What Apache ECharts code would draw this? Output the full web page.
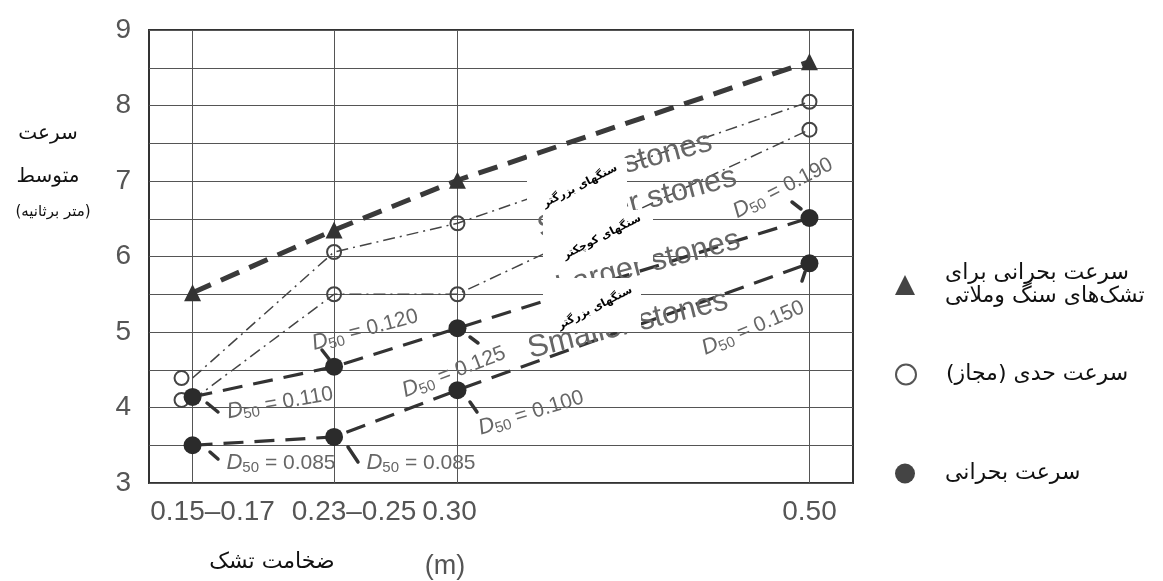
<!DOCTYPE html>
<html><head><meta charset="utf-8">
<script src="https://cdn.jsdelivr.net/npm/echarts@6/dist/echarts.min.js"></script>
<style>html,body{margin:0;padding:0;background:#fff}#c{width:1163px;height:581px}</style>
</head><body><div id="c"></div>
<script>
// ---- data ----
const xLabels = ['0.15–0.17', '0.23–0.25', '0.30', '0.50'];
const xPos = [0.16, 0.238, 0.306, 0.50];            // lining thickness (m), as placed on the drawn axis
const yTicks = [3, 4, 5, 6, 7, 8, 9];
const stoneLining = [5.52, 6.35, 7.01, 8.58];       // critical velocity, stone & mortar linings
const limitLarger = [4.39, 6.06, 6.44, 8.05];       // limit velocity, larger stones
const limitSmaller = [4.10, 5.50, 5.50, 7.68];      // limit velocity, smaller stones
const criticalLarger = [4.14, 4.54, 5.05, 6.51];    // critical velocity, larger stones
const criticalSmaller = [3.50, 3.61, 4.23, 5.91];   // critical velocity, smaller stones
const legendNames = ['سرعت بحرانی برای\nتشک‌های سنگ وملاتی', 'سرعت حدی (مجاز)', 'سرعت بحرانی'];
const d50Values = ['0.120', '0.110', '0.085', '0.085', '0.125', '0.100', '0.190', '0.150'];
const stoneTexts = ['Larger stones', 'Smaller stones', 'Larger stones', 'Smaller stones'];
const boxTexts = ['سنگهای بزرگتر', 'سنگهای کوچکتر', 'سنگهای بزرگتر'];

// ---- layout of annotations (pixels) ----
const d50Place = [[365,330,15],[280,403,10],[281,463,0],[421,463,0],[454,372,21],[531,413,17],[783,188,27],[753,328,23]];
const stonePlace = [[620,166,15],[637,203,15],[648,264,15],[628,325,14]];
const boxRects = [[527,158,100,52],[543,210,110,52],[543,278,98,54]];
const boxTextPlace = [[580,186,27],[602,237,27],[595,308,27]];
const arrowSegs = [[322,350,329,359],[207,403,218,412],[210,452,218,459],[348,447,358,462],[470,337,478,343],[470,402,477,412],[792,202,801,209],[802,281,805,272]];

const rad = d => d * Math.PI / 180;
const FONT = '"Liberation Sans", Arial, sans-serif';
const FA = '"DejaVu Sans", sans-serif';

const chart = echarts.init(document.getElementById('c'), null, {renderer: 'canvas'});

function pts(arr) { return arr.map((v, i) => [xPos[i], v]); }
function openPts(arr) { return arr.map((v, i) => i === 0 ? {value: [xPos[i], v], symbolOffset: [-11, 0]} : [xPos[i], v]); }

const graphics = [];
stoneTexts.forEach((t, i) => {
  const p = stonePlace[i];
  graphics.push({type: 'text', x: p[0], y: p[1], rotation: rad(p[2]), z: 10,
    style: {text: t, fontSize: 31, fontFamily: FONT, fill: '#666', align: 'center', verticalAlign: 'middle'}});
});
boxRects.forEach((r, i) => {
  graphics.push({type: 'rect', shape: {x: r[0], y: r[1], width: r[2], height: r[3]}, z: 20, style: {fill: '#fff'}});
  const p = boxTextPlace[i];
  graphics.push({type: 'text', x: p[0], y: p[1], rotation: rad(p[2]), z: 21,
    style: {text: boxTexts[i], fontSize: 11, fontWeight: 'bold', fontFamily: FA, fill: '#000', align: 'center', verticalAlign: 'middle'}});
});
d50Values.forEach((v, i) => {
  const p = d50Place[i];
  graphics.push({type: 'text', x: p[0], y: p[1], rotation: rad(p[2]), z: 10,
    style: {text: '{d|D}{s|50}{t| = ' + v + '}', align: 'center', verticalAlign: 'middle',
      rich: {
        d: {fontSize: 22, fontStyle: 'italic', fontFamily: FONT, fill: '#666', lineHeight: 25},
        s: {fontSize: 15, fontFamily: FONT, fill: '#666', lineHeight: 12, verticalAlign: 'bottom'},
        t: {fontSize: 21, fontFamily: FONT, fill: '#666', lineHeight: 25}
      }}});
});
arrowSegs.forEach(s => {
  graphics.push({type: 'line', shape: {x1: s[0], y1: s[1], x2: s[2], y2: s[3]}, z: 9,
    style: {stroke: '#333', lineWidth: 3.5, lineCap: 'round'}});
});
// axis titles
graphics.push({type: 'text', x: 48, y: 134, z: 10, style: {text: 'سرعت', fontSize: 20, fontFamily: FA, fill: '#111', align: 'center', verticalAlign: 'middle'}});
graphics.push({type: 'text', x: 48, y: 177, z: 10, style: {text: 'متوسط', fontSize: 20, fontFamily: FA, fill: '#111', align: 'center', verticalAlign: 'middle'}});
graphics.push({type: 'text', x: 53, y: 212, z: 10, style: {text: '(متر برثانیه)', fontSize: 15, fontFamily: FA, fill: '#111', align: 'center', verticalAlign: 'middle'}});
graphics.push({type: 'text', x: 272, y: 562, z: 10, style: {text: 'ضخامت تشک', fontSize: 22, fontFamily: FA, fill: '#111', align: 'center', verticalAlign: 'middle'}});
graphics.push({type: 'text', x: 445, y: 567, z: 10, style: {text: '(m)', fontSize: 27, fontFamily: FONT, fill: '#555', align: 'center', verticalAlign: 'middle'}});

function legendFor(i, icon, top, itemStyle) {
  return {
    show: true, orient: 'vertical', left: 895, top: top, padding: 0,
    itemWidth: 20, itemHeight: 20, selectedMode: false,
    data: [{name: legendNames[i], icon: icon, itemStyle: itemStyle}],
    textStyle: {fontSize: 22, fontFamily: FA, color: '#111', lineHeight: 23, padding: [0, 0, 0, 25]}
  };
}

const option = {
  backgroundColor: '#fff',
  animation: false,
  grid: {left: 149, right: 310, top: 30, bottom: 98, show: true, borderColor: '#333', borderWidth: 2, containLabel: false},
  xAxis: {
    type: 'value', min: 0.136, max: 0.524,
    axisLine: {show: false},
    axisTick: {show: false, customValues: xPos},
    splitLine: {show: true, lineStyle: {color: '#555', width: 1}},
    axisLabel: {
      customValues: xPos, margin: 15,
      formatter: v => {
        const i = xPos.findIndex(p => Math.abs(p - v) < 1e-6);
        return i < 0 ? '' : '{l' + i + '|' + xLabels[i] + '}';
      },
      rich: {
        l0: {fontSize: 28, fontFamily: FONT, color: '#555', padding: [0, 0, 0, 40]},
        l1: {fontSize: 28, fontFamily: FONT, color: '#555', padding: [0, 0, 0, 40]},
        l2: {fontSize: 28, fontFamily: FONT, color: '#555', padding: [0, 16, 0, 0]},
        l3: {fontSize: 28, fontFamily: FONT, color: '#555'}
      }
    }
  },
  yAxis: {
    type: 'value', min: 3, max: 9, interval: 0.5,
    axisLine: {show: false}, axisTick: {show: false},
    splitLine: {show: true, lineStyle: {color: '#555', width: 1}},
    axisLabel: {margin: 18, fontSize: 28, fontFamily: FONT, color: '#555', padding: [8, 0, 0, 0],
      formatter: v => yTicks.includes(v) ? String(v) : ''}
  },
  legend: [
    legendFor(0, 'triangle', 262, {color: '#444'}),
    legendFor(1, 'circle', 363, {color: '#fff', borderColor: '#555', borderWidth: 2}),
    legendFor(2, 'circle', 462, {color: '#444'})
  ],
  series: [
    {name: legendNames[0], type: 'line', data: pts(stoneLining), symbol: 'triangle', symbolSize: 17, z: 6,
      itemStyle: {color: '#333'}, lineStyle: {color: '#3a3a3a', width: 5, type: [20, 11]}},
    {name: legendNames[1], type: 'line', data: openPts(limitLarger), symbol: 'circle', symbolSize: 14, z: 4,
      itemStyle: {color: 'rgba(255,255,255,0)', borderColor: '#444', borderWidth: 2}, lineStyle: {color: '#444', width: 1.5, type: [12, 5, 2, 5]}},
    {name: legendNames[1], type: 'line', data: openPts(limitSmaller), symbol: 'circle', symbolSize: 14, z: 4,
      itemStyle: {color: 'rgba(255,255,255,0)', borderColor: '#444', borderWidth: 2}, lineStyle: {color: '#444', width: 1.5, type: [12, 5, 2, 5]}},
    {name: legendNames[2], type: 'line', data: pts(criticalLarger), symbol: 'circle', symbolSize: 18, z: 5,
      itemStyle: {color: '#2b2b2b'}, lineStyle: {color: '#333', width: 3.2, type: [20, 11]}},
    {name: legendNames[2], type: 'line', data: pts(criticalSmaller), symbol: 'circle', symbolSize: 18, z: 5,
      itemStyle: {color: '#2b2b2b'}, lineStyle: {color: '#333', width: 3.2, type: [20, 11]}}
  ],
  graphic: graphics
};
chart.setOption(option);
</script>
</body></html>
